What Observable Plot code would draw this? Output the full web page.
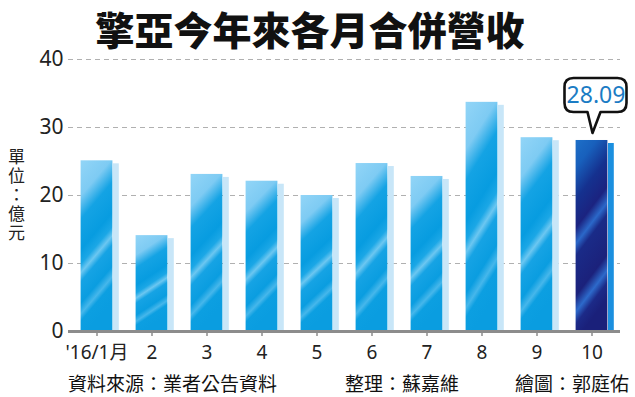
<!DOCTYPE html>
<html><head><meta charset="utf-8">
<script src="https://cdn.jsdelivr.net/npm/d3@7"></script>
<script src="https://cdn.jsdelivr.net/npm/@observablehq/plot@0.6"></script>
<style>
html,body{margin:0;padding:0;background:#fff;}
#wrap{position:relative;width:635px;height:397px;font-family:"Noto Sans CJK TC","Noto Sans",sans-serif;color:#111;}
#title{position:absolute;left:0;width:620px;top:0px;text-align:center;font-size:39px;line-height:normal;font-weight:900;color:#111;white-space:nowrap;}
#unit{position:absolute;left:4px;top:148px;writing-mode:vertical-rl;font-size:17px;letter-spacing:2px;color:#222;white-space:nowrap;}
#chart{position:absolute;left:0;top:50px;}
.foot{position:absolute;top:372px;font-size:19px;line-height:22px;color:#111;white-space:nowrap;}
</style></head><body>
<div id="wrap">
<div id="chart"></div>
<div id="title">擎亞今年來各月合併營收</div>
<div id="unit">單位：億元</div>
<div class="foot" style="left:68px">資料來源：業者公告資料</div>
<div class="foot" style="left:345px">整理：蘇嘉維</div>
<div class="foot" style="left:515px">繪圖：郭庭佑</div>
</div>
<script>
const months = ["'16/1月", "2", "3", "4", "5", "6", "7", "8", "9", "10"];
const revenue = [25.1, 14.1, 23.1, 22.1, 20.0, 24.7, 22.8, 33.7, 28.5, 28.09];
const yTicks = [0, 10, 20, 30, 40];
const highlightMonth = "10";

const data = months.map((m, i) => ({month: m, value: revenue[i], hl: m === highlightMonth}));
const normal = data.filter(d => !d.hl);
const high = data.filter(d => d.hl);

const chart = Plot.plot({
  width: 635,
  height: 315,
  marginLeft: 68,
  marginRight: 15,
  marginTop: 9,
  marginBottom: 34,
  style: {fontFamily: '"Noto Sans","Noto Sans CJK TC",sans-serif', fontSize: "20px", color: "#222", background: "transparent", overflow: "visible"},
  x: {domain: months, padding: 0},
  y: {domain: [0, 40]},
  marks: [
    Plot.gridY(yTicks.filter(t => t > 0), {stroke: "#b0b0b0", strokeOpacity: 1, strokeDasharray: "5,4"}),
    Plot.barY(normal, {x: "month", y: "value", fill: "#c8e6f8", insetLeft: 44, insetRight: 5.2, insetTop: 3}),
    Plot.barY(high, {x: "month", y: "value", fill: "#1b8fdf", insetLeft: 44, insetRight: 5.2, insetTop: 3}),
    Plot.barY(normal, {x: "month", y: "value", fill: "url(#gNorm)", insetLeft: 11.6, insetRight: 11.6}),
    Plot.barY(high, {x: "month", y: "value", fill: "url(#gHi)", insetLeft: 11.6, insetRight: 11.6}),
    Plot.ruleY([0], {stroke: "#8c8c8c", strokeWidth: 3}),
    Plot.axisY({ticks: yTicks, tickSize: 0, tickPadding: 5, label: null, fontSize: 21, fill: "#222"}),
    Plot.axisX({tickSize: 5, tickPadding: 9, label: null, fontSize: 19, stroke: "#8c8c8c", strokeWidth: 1.5, fill: "#222"}),
    Plot.text(high, {x: "month", y: "value", text: d => d.value.toFixed(2), dy: -45, dx: 4, fontSize: 23, fill: "#1b7cc4"})
  ]
});
document.getElementById("chart").appendChild(chart);

const svg = d3.select(chart);
const defs = svg.insert("defs", ":first-child");
function grad(id, stops) {
  const g = defs.append("linearGradient").attr("id", id)
    .attr("x1", 0).attr("y1", 0).attr("x2", 0.22).attr("y2", 1);
  stops.forEach(([o, c]) => g.append("stop").attr("offset", o).attr("stop-color", c));
}
grad("gNorm", [
  [0, "#92d5f7"], [0.2, "#7ecbf3"], [0.33, "#14a3e4"], [0.5, "#079ce0"],
  [0.58, "#1ba7e6"], [0.63, "#6cc7f1"], [0.68, "#16a3e4"], [0.8, "#0a9de0"],
  [0.86, "#46b7eb"], [0.9, "#0c9fe1"], [1, "#0a9de0"]
]);
grad("gHi", [
  [0, "#1d6fc8"], [0.14, "#1860bc"], [0.3, "#15318f"], [0.44, "#1b2380"],
  [0.52, "#2b68c9"], [0.58, "#1a2b88"], [0.78, "#1b217b"],
  [0.86, "#2d6acb"], [0.92, "#1c2a88"], [1, "#1a207a"]
]);

// callout bubble positioned from the library's scales
const xs = chart.scale("x"), ys = chart.scale("y");
high.forEach(d => {
  const px = xs.apply(d.month) + xs.bandwidth / 2;
  const py = ys.apply(d.value);
  const L = px - 27, R = px + 35, T = py - 62, B = py - 28, r = 9;
  const path = `M${L + r},${T} H${R - r} Q${R},${T} ${R},${T + r} V${B - r} Q${R},${B} ${R - r},${B} ` +
    `H${px + 9} L${px + 1},${py - 7} L${px - 4},${B} H${L + r} Q${L},${B} ${L},${B - r} V${T + r} Q${L},${T} ${L + r},${T} Z`;
  const textG = chart.querySelector("g[aria-label='text']");
  const g = document.createElementNS("http://www.w3.org/2000/svg", "g");
  chart.insertBefore(g, textG);
  d3.select(g).append("path").attr("d", path).attr("fill", "#fff").attr("stroke", "#111")
    .attr("stroke-width", 2.6).attr("stroke-linejoin", "round");
});
</script>
</body></html>
